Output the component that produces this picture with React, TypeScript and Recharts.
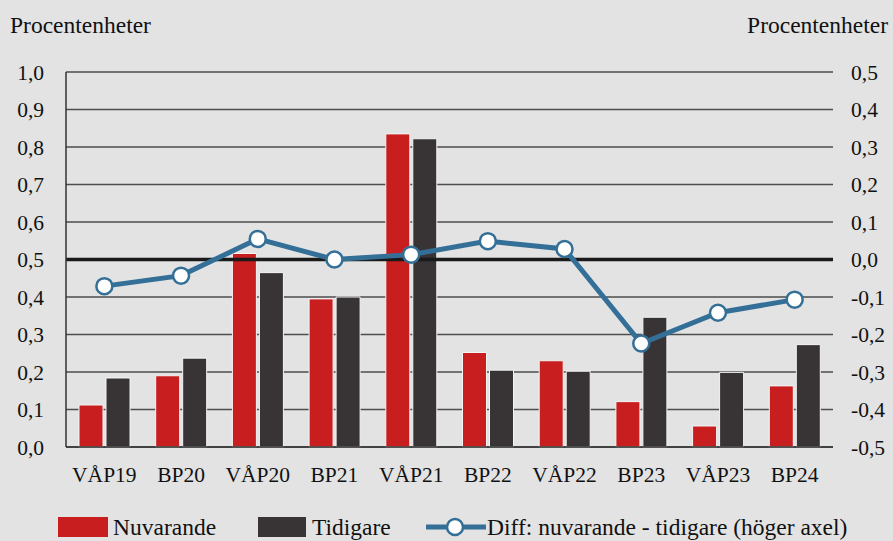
import React from 'react';
import { ComposedChart, Bar, Line, XAxis, YAxis, CartesianGrid, ReferenceLine, Legend } from 'recharts';

const categories = ['VÅP19', 'BP20', 'VÅP20', 'BP21', 'VÅP21', 'BP22', 'VÅP22', 'BP23', 'VÅP23', 'BP24'];
const nuvarande = [0.112, 0.19, 0.516, 0.395, 0.835, 0.252, 0.23, 0.121, 0.056, 0.163];
const tidigare = [0.184, 0.237, 0.465, 0.4, 0.822, 0.205, 0.202, 0.346, 0.199, 0.273];
const diff = [-0.071, -0.043, 0.055, 0.0, 0.013, 0.049, 0.028, -0.224, -0.142, -0.107];
const leftTicks = [0, 0.1, 0.2, 0.3, 0.4, 0.5, 0.6, 0.7, 0.8, 0.9, 1.0];
const rightTicks = [-0.5, -0.4, -0.3, -0.2, -0.1, 0, 0.1, 0.2, 0.3, 0.4, 0.5];

const data = categories.map((c, i) => ({ cat: c, nuv: nuvarande[i], tid: tidigare[i], diff: diff[i] }));

const RED = '#c81e1f';
const DARK = '#383335';
const BLUE = '#346f97';
const BG = '#e3e3e3';
const FONT = '"Liberation Serif", "DejaVu Serif", serif';

const fmt = (v: number) => {
  const s = Math.abs(v) < 1e-9 ? '0,0' : v.toFixed(1).replace('.', ',');
  return s;
};

const LegendContent = () => (
  <div style={{ position: 'relative', height: 40, fontFamily: FONT, fontSize: 23.5, color: '#111' }}>
    <div style={{ position: 'absolute', left: 58, top: 16, width: 50, height: 20, background: RED }} />
    <div style={{ position: 'absolute', left: 113, top: 12, lineHeight: '28px', whiteSpace: 'nowrap' }}>Nuvarande</div>
    <div style={{ position: 'absolute', left: 258, top: 16, width: 48, height: 20, background: DARK }} />
    <div style={{ position: 'absolute', left: 312, top: 12, lineHeight: '28px', whiteSpace: 'nowrap' }}>Tidigare</div>
    <svg style={{ position: 'absolute', left: 424, top: 13 }} width={64} height={26}>
      <line x1={2} y1={13} x2={62} y2={13} stroke={BLUE} strokeWidth={5} />
      <circle cx={31} cy={13} r={8} fill="#fff" stroke={BLUE} strokeWidth={2.5} />
    </svg>
    <div style={{ position: 'absolute', left: 487, top: 12, lineHeight: '28px', whiteSpace: 'nowrap' }}>Diff: nuvarande - tidigare (höger axel)</div>
  </div>
);

export default function App() {
  return (
    <div style={{ position: 'absolute', left: 0, top: 0, width: 893, height: 541, background: BG, fontFamily: FONT }}>
      <div style={{ position: 'absolute', left: 10, top: 11, fontSize: 23.5, lineHeight: '28px', color: '#111', whiteSpace: 'nowrap' }}>Procentenheter</div>
      <div style={{ position: 'absolute', right: 5, top: 11, fontSize: 23.5, lineHeight: '28px', color: '#111', whiteSpace: 'nowrap' }}>Procentenheter</div>
      <ComposedChart
        width={893}
        height={541}
        data={data}
        margin={{ top: 72, right: 0, bottom: 0, left: 0 }}
        barGap={3}
        barSize={24}
      >
        <CartesianGrid horizontal={true} vertical={false} stroke="#4d4d4d" strokeWidth={1.5} yAxisId="left" />
        <XAxis
          dataKey="cat"
          height={54}
          tickLine={false}
          axisLine={{ stroke: '#333', strokeWidth: 1.5 }}
          tickMargin={14}
          tick={{ fontSize: 21.5, fill: '#111', fontFamily: FONT }}
          interval={0}
        />
        <YAxis
          yAxisId="left"
          orientation="left"
          width={66}
          domain={[0, 1]}
          ticks={leftTicks}
          tickFormatter={fmt}
          tickLine={false}
          axisLine={{ stroke: '#333', strokeWidth: 1.5 }}
          tickMargin={16}
          tick={{ fontSize: 21.5, fill: '#111', fontFamily: FONT }}
          interval={0}
        />
        <YAxis
          yAxisId="right"
          orientation="right"
          width={60}
          domain={[-0.5, 0.5]}
          ticks={rightTicks}
          tickFormatter={fmt}
          tickLine={false}
          axisLine={false}
          tickMargin={12}
          tick={{ fontSize: 21.5, fill: '#111', fontFamily: FONT }}
          interval={0}
        />
        <ReferenceLine yAxisId="left" y={0.5} stroke="#1a1a1a" strokeWidth={3.5} />
        <Bar yAxisId="left" dataKey="nuv" fill={RED} stroke="#f4f4f4" strokeWidth={1} isAnimationActive={false} />
        <Bar yAxisId="left" dataKey="tid" fill={DARK} stroke="#f4f4f4" strokeWidth={1} isAnimationActive={false} />
        <Line
          yAxisId="right"
          dataKey="diff"
          stroke={BLUE}
          strokeWidth={5}
          dot={{ r: 8, fill: '#fff', stroke: BLUE, strokeWidth: 2.5 }}
          activeDot={false}
          isAnimationActive={false}
        />
        <Legend verticalAlign="bottom" height={40} content={<LegendContent />} wrapperStyle={{ left: 0, width: 893 }} />
      </ComposedChart>
    </div>
  );
}
